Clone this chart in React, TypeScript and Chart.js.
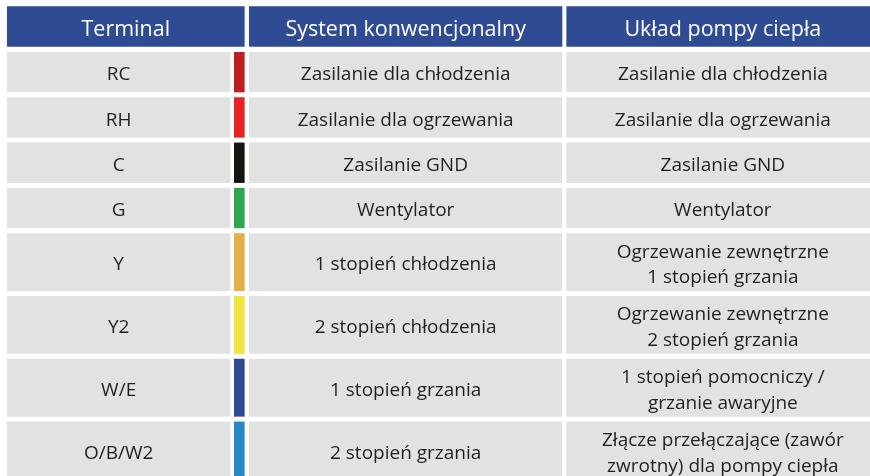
import React, { useEffect, useRef } from 'react';
import { Chart, registerables } from 'chart.js';

Chart.register(...registerables);

// ---------- data ----------
const headers = ['Terminal', 'System konwencjonalny', 'Układ pompy ciepła'];
const terminals = ['RC', 'RH', 'C', 'G', 'Y', 'Y2', 'W/E', 'O/B/W2'];
const wireColors = ['#bd1e20', '#e62222', '#15140f', '#31a651', '#e3b045', '#f2e440', '#2e4a92', '#2887c7'];
const conventionalSystem = [
  'Zasilanie dla chłodzenia',
  'Zasilanie dla ogrzewania',
  'Zasilanie GND',
  'Wentylator',
  '1 stopień chłodzenia',
  '2 stopień chłodzenia',
  '1 stopień grzania',
  '2 stopień grzania',
];
const heatPumpSystem = [
  'Zasilanie dla chłodzenia',
  'Zasilanie dla ogrzewania',
  'Zasilanie GND',
  'Wentylator',
  'Ogrzewanie zewnętrzne\n1 stopień grzania',
  'Ogrzewanie zewnętrzne\n2 stopień grzania',
  '1 stopień pomocniczy /\ngrzanie awaryjne',
  'Złącze przełączające (zawór\nzwrotny) dla pompy ciepła',
];

// ---------- layout / style ----------
const W = 870;
const H = 476;
const COL_TERM: [number, number] = [7.3, 230];
const COL_STRIP: [number, number] = [234.3, 244.3];
const COL_TERM_HEAD: [number, number] = [7.3, 244.3];
const COL_CONV: [number, number] = [249.3, 562];
const COL_HEAT: [number, number] = [566.7, 879];
const HEADER_TOP = 6.7;
const HEADER_H = 39.6;
const FIRST_ROW_TOP = 52.3;
const ROW_H1 = 39.7;
const ROW_H2 = 57.2;
const ROW_GAP = 5.6;
const BLUE = '#2e4b93';
const GREY = '#e2e2e2';
const TEXT = '#231f20';
const FONT_FAMILY = '"Open Sans", "Noto Sans", sans-serif';
const BODY_SIZE = 19;
const HEAD_SIZE = 21.5;
const LINE_H = 25.6;
const BODY_BASE_OFF = 8.2;
const HEAD_BASE_OFF = 9.2;

const lineCount = (s: string) => s.split('\n').length;

function rowGeometry() {
  let top = FIRST_ROW_TOP;
  return terminals.map((_, i) => {
    const n = Math.max(lineCount(conventionalSystem[i]), lineCount(heatPumpSystem[i]));
    const h = n > 1 ? ROW_H2 : ROW_H1;
    const g = { center: top + h / 2, height: h };
    top += h + ROW_GAP;
    return g;
  });
}

const textPlugin = {
  id: 'cellText',
  afterDatasetsDraw(chart: any) {
    const { ctx } = chart;
    const xs = chart.scales.x;
    const ys = chart.scales.y;
    const rows = rowGeometry();
    const headCenter = HEADER_TOP + HEADER_H / 2;
    ctx.save();
    ctx.textAlign = 'center';
    ctx.textBaseline = 'alphabetic';
    const draw = (text: string, col: [number, number], center: number, color: string, size: number, off: number) => {
      const lines = text.split('\n');
      ctx.fillStyle = color;
      ctx.font = `${size}px ${FONT_FAMILY}`;
      const cx = xs.getPixelForValue((col[0] + col[1]) / 2);
      lines.forEach((ln, k) => {
        const v = center + off + (k - (lines.length - 1) / 2) * LINE_H;
        ctx.fillText(ln, cx, ys.getPixelForValue(v));
      });
    };
    const headCols = [COL_TERM_HEAD, COL_CONV, COL_HEAT];
    headers.forEach((h, i) => draw(h, headCols[i], headCenter, '#ffffff', HEAD_SIZE, HEAD_BASE_OFF));
    rows.forEach((r, i) => {
      draw(terminals[i], COL_TERM, r.center, TEXT, BODY_SIZE, BODY_BASE_OFF);
      draw(conventionalSystem[i], COL_CONV, r.center, TEXT, BODY_SIZE, BODY_BASE_OFF);
      draw(heatPumpSystem[i], COL_HEAT, r.center, TEXT, BODY_SIZE, BODY_BASE_OFF);
    });
    ctx.restore();
  },
};

export default function App() {
  const ref = useRef<HTMLCanvasElement | null>(null);
  useEffect(() => {
    if (!ref.current) return;
    const rows = rowGeometry();
    const headCenter = HEADER_TOP + HEADER_H / 2;
    const datasets: any[] = [
      {
        label: 'header',
        data: [
          { x: COL_TERM_HEAD, y: headCenter },
          { x: COL_CONV, y: headCenter },
          { x: COL_HEAT, y: headCenter },
        ],
        backgroundColor: BLUE,
        barThickness: HEADER_H,
        borderWidth: 0,
        stack: 'table',
      },
      ...rows.map((r, i) => ({
        label: terminals[i],
        data: [
          { x: COL_TERM, y: r.center },
          { x: COL_STRIP, y: r.center },
          { x: COL_CONV, y: r.center },
          { x: COL_HEAT, y: r.center },
        ],
        backgroundColor: [GREY, wireColors[i], GREY, GREY],
        barThickness: r.height,
        borderWidth: 0,
        stack: 'table',
      })),
    ];
    const chart = new Chart(ref.current, {
      type: 'bar',
      data: { datasets },
      options: {
        indexAxis: 'y',
        animation: false,
        responsive: true,
        maintainAspectRatio: false,
        events: [],
        layout: { padding: 0 },
        plugins: { legend: { display: false }, tooltip: { enabled: false } },
        scales: {
          x: { type: 'linear', min: 0, max: W, display: false, stacked: false, offset: false },
          y: { type: 'linear', min: 0, max: H, reverse: true, display: false, offset: false },
        },
      } as any,
      plugins: [textPlugin],
    });
    return () => chart.destroy();
  }, []);
  return (
    <div style={{ position: 'absolute', left: 0, top: 0, width: W, height: H, background: '#ffffff' }}>
      <canvas ref={ref} />
    </div>
  );
}
